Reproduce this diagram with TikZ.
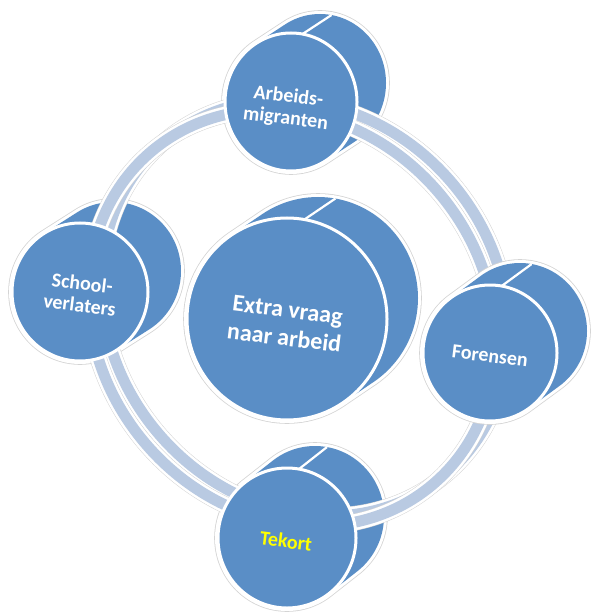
\documentclass[tikz,border=0pt]{standalone}
\usepackage{fontspec}
\setmainfont{Carlito}
\definecolor{nodeblue}{RGB}{90,142,198}
\definecolor{ringblue}{RGB}{185,202,226}
\definecolor{glowgray}{RGB}{212,212,212}
\newcommand\cylbody[6]{%
  \fill[glowgray] \foreach \t in {0,...,12}{({#1+\t*(#5)/12},{#2+\t*(#6)/12}) ellipse [x radius=#3pt+3.8pt, y radius=#4pt+3.8pt]};
  \fill[white] \foreach \t in {0,...,12}{({#1+\t*(#5)/12},{#2+\t*(#6)/12}) ellipse [x radius=#3pt+3pt, y radius=#4pt+3pt]};
  \fill[nodeblue] \foreach \t in {0,...,12}{({#1+\t*(#5)/12},{#2+\t*(#6)/12}) ellipse [x radius=#3pt, y radius=#4pt]};
  \draw[white,line width=2.2pt] ({#1+#3*cos(80)},{#2-#4*sin(80)}) -- ++(#5,#6);
}
\newcommand\cylfront[4]{%
  \draw[white,line width=3pt,fill=nodeblue] (#1,#2) ellipse [x radius=#3pt, y radius=#4pt];
}
\newcommand\ringband[2]{%
  \begin{scope}[shift={(#1,#2)}]
    \draw[glowgray,line width=17pt,rotate around={-50:(292,318)}] (292,318) ellipse [x radius=218pt, y radius=193pt];
    \draw[white,line width=16pt,rotate around={-50:(292,318)}] (292,318) ellipse [x radius=218pt, y radius=193pt];
    \draw[ringblue,line width=11pt,rotate around={-50:(292,318)}] (292,318) ellipse [x radius=218pt, y radius=193pt];
  \end{scope}
}
\tikzset{
  lbl/.style={text=white, font=\bfseries\fontsize{20}{22}\selectfont, align=center, inner sep=0pt, rotate=-7},
  biglbl/.style={lbl, font=\bfseries\fontsize{24}{28}\selectfont},
}
\begin{document}
\begin{tikzpicture}[x=1pt,y=-1pt]
\useasboundingbox (0,0) rectangle (595,612);
% bodies
\cylbody{291}{102}{66}{69}{29}{-19}
\cylbody{80}{292}{68}{69}{33}{-21}
\cylbody{287}{538}{69}{70}{28}{-22}
\cylbody{287}{319}{100}{101}{31}{-21}
% ring
\ringband{13}{-10}
\ringband{0}{0}
% Forensen body behind ring
\cylbody{490}{353}{67}{68}{30}{-22}
% fronts
\cylfront{291}{102}{66}{69}
\cylfront{80}{292}{68}{69}
\cylfront{287}{538}{69}{70}
\cylfront{287}{319}{100}{101}
\cylfront{490}{353}{67}{68}
% labels
\node[lbl] (arb) at (287,108) {Arbeids-\\migranten};
\node[lbl] (sch) at (81,294) {School-\\verlaters};
\node[biglbl] (ext) at (286,324) {Extra vraag\\naar arbeid};
\node[lbl] (for) at (490,356) {Forensen};
\node[lbl, text={rgb,255:red,255;green,255;blue,0}] (tek) at (286,541) {Tekort};
\end{tikzpicture}
\end{document}
